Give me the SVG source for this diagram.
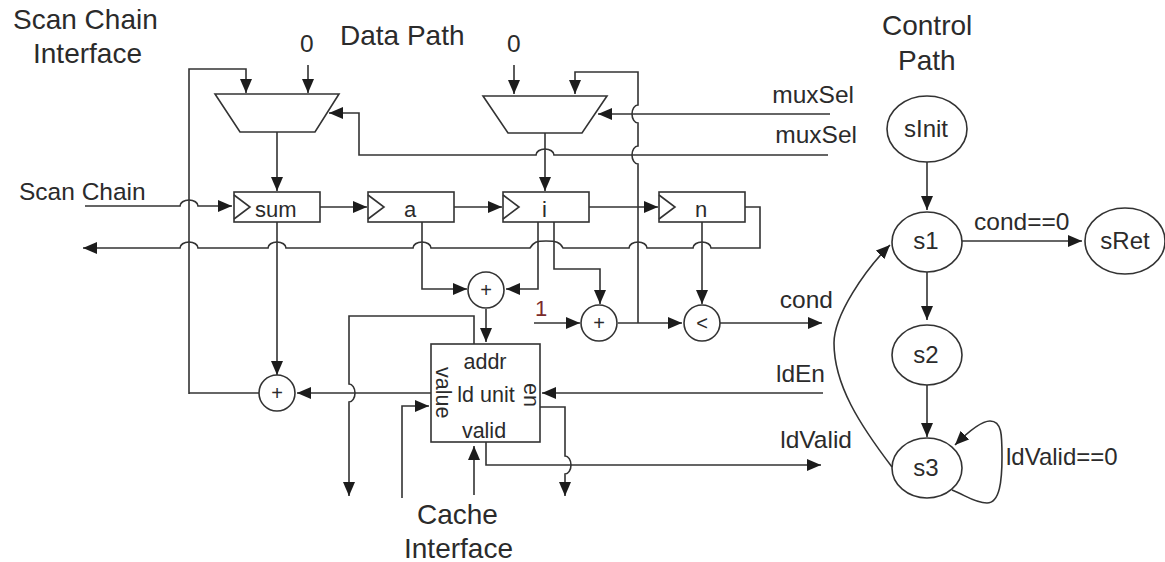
<svg xmlns="http://www.w3.org/2000/svg" width="1165" height="562" viewBox="0 0 1165 562">
<defs>
<marker id="a" markerUnits="userSpaceOnUse" markerWidth="16" markerHeight="14" refX="14" refY="6.5" orient="auto"><path d="M0 0.5L14 6.5L0 12.5Z" fill="#1c1c1c"/></marker>
</defs>
<style>
text{font-family:"Liberation Sans",Arial,sans-serif;fill:#2b2b2b;stroke:none}
.c path{fill:none;stroke:#333;stroke-width:1.6}
.n rect,.n circle,.n ellipse,.n path{fill:none;stroke:#333;stroke-width:1.6}
.m{marker-end:url(#a)}
.big{font-size:28px}.lab{font-size:24.5px}.st{font-size:24px}.reg{font-size:22px}.ld{font-size:21.5px}.op{font-size:20px}
</style>
<rect width="1165" height="562" fill="#fff"/>
<g id="connectors" class="c">
<path d="M189 394V69H246V93" class="m"/>
<path d="M308 65V93" class="m"/>
<path d="M277 132V191" class="m"/>
<path d="M828 155H554A9 6 0 0 0 536 155H359V113H329" class="m"/>
<path d="M85 206H180A9 6 0 0 1 198 206H232" class="m"/>
<path d="M320 207H367" class="m"/>
<path d="M454 207H502" class="m"/>
<path d="M589 207H658" class="m"/>
<path d="M745 207H760V248H711A9 6 0 0 0 693 248H647A9 6 0 0 0 629 248H563C560 242 556 241 546 241C536 241 534 242 530 248H431A9 6 0 0 0 413 248H286A9 6 0 0 0 268 248H198A9 6 0 0 0 180 248H83" class="m"/>
<path d="M514 65V94" class="m"/>
<path d="M638 323V164A6 9 0 0 1 638 146V123A6 9 0 0 1 638 105V72H575V94" class="m"/>
<path d="M830 114H598" class="m"/>
<path d="M545 133V191" class="m"/>
<path d="M422 222V289H467" class="m"/>
<path d="M538 222V289H506" class="m"/>
<path d="M554 222V269H600V304" class="m"/>
<path d="M702 222V304" class="m"/>
<path d="M277 222V375" class="m"/>
<path d="M534 323H580" class="m"/>
<path d="M618 323H682" class="m"/>
<path d="M720 323H822" class="m"/>
<path d="M486 309V342" class="m"/>
<path d="M474 344V316H349V384A6 9 0 0 1 349 402V496" class="m"/>
<path d="M431 393H297" class="m"/>
<path d="M259 393H189"/>
<path d="M823 393H542" class="m"/>
<path d="M402 498V406H429" class="m"/>
<path d="M474 495V446" class="m"/>
<path d="M486 442V465H821" class="m"/>
<path d="M540 407H565V456A6 9 0 0 1 565 474V496" class="m"/>
<path d="M927 162V210" class="m"/>
<path d="M927 272V320" class="m"/>
<path d="M927 385V437" class="m"/>
<path d="M962 241H1082" class="m"/>
<path d="M892 467C860 425 834 385 834 343C834 315 865 270 890 245" class="m"/>
<path d="M952 490C965 495 975 503 987 503C1000 503 1002 480 1002 457C1002 435 1002 421 990 421C980 421 965 435 955 445" class="m"/>
</g>
<g id="mux-left" class="n"><path d="M215 94H339L315 132H240Z"/></g>
<g id="mux-right" class="n"><path d="M483 96H607L582 133H508Z"/></g>
<g id="reg-sum" class="n"><rect x="234" y="192" width="86" height="30"/><path d="M234 195L250 207L234 219"/><text x="255" y="217" class="reg">sum</text></g>
<g id="reg-a" class="n"><rect x="368" y="192" width="86" height="30"/><path d="M368 195L384 207L368 219"/><text x="404" y="217" class="reg">a</text></g>
<g id="reg-i" class="n"><rect x="503" y="192" width="86" height="30"/><path d="M503 195L519 207L503 219"/><text x="542" y="217" class="reg">i</text></g>
<g id="reg-n" class="n"><rect x="659" y="192" width="86" height="30"/><path d="M659 195L675 207L659 219"/><text x="695" y="217" class="reg">n</text></g>
<g id="add-1" class="n"><circle cx="486" cy="290" r="18"/><text x="486" y="297" text-anchor="middle" class="op">+</text></g>
<g id="add-2" class="n"><circle cx="599" cy="323" r="18"/><text x="599" y="330" text-anchor="middle" class="op">+</text></g>
<g id="lt" class="n"><circle cx="702" cy="323" r="18"/><text x="702" y="330" text-anchor="middle" class="op">&lt;</text></g>
<g id="add-3" class="n"><circle cx="277" cy="393" r="18"/><text x="277" y="400" text-anchor="middle" class="op">+</text></g>
<g id="ld-unit" class="n"><rect x="431" y="344" width="109" height="98"/>
<text x="485" y="369" text-anchor="middle" class="ld">addr</text>
<text x="486" y="402" text-anchor="middle" class="ld">ld unit</text>
<text x="484" y="438" text-anchor="middle" class="ld">valid</text>
<text transform="translate(436,367) rotate(90)" class="ld">value</text>
<text transform="translate(524,383) rotate(90)" class="ld">en</text>
</g>
<g id="s-init" class="n"><ellipse cx="927" cy="129" rx="40" ry="33"/><text x="926" y="137" text-anchor="middle" class="st">sInit</text></g>
<g id="s1" class="n"><ellipse cx="927" cy="242" rx="35" ry="30"/><text x="926" y="249" text-anchor="middle" class="st">s1</text></g>
<g id="s2" class="n"><ellipse cx="927" cy="355" rx="35" ry="30"/><text x="926" y="363" text-anchor="middle" class="st">s2</text></g>
<g id="s3" class="n"><ellipse cx="927" cy="468" rx="35" ry="30"/><text x="926" y="476" text-anchor="middle" class="st">s3</text></g>
<g id="s-ret" class="n"><ellipse cx="1125" cy="241" rx="40" ry="33"/><text x="1125" y="249" text-anchor="middle" class="st">sRet</text></g>
<g id="labels">
<text x="13" y="29" class="big">Scan Chain</text>
<text x="33" y="63" class="big">Interface</text>
<text x="340" y="45" class="big">Data Path</text>
<text x="300" y="52" class="lab">0</text>
<text x="507" y="52" class="lab">0</text>
<text x="19" y="200" class="lab">Scan Chain</text>
<text x="854" y="103" text-anchor="end" class="lab">muxSel</text>
<text x="857" y="143" text-anchor="end" class="lab">muxSel</text>
<text x="833" y="308" text-anchor="end" class="lab">cond</text>
<text x="825" y="382" text-anchor="end" class="lab">ldEn</text>
<text x="852" y="448" text-anchor="end" class="lab">ldValid</text>
<text x="535" y="316" class="reg" style="fill:#7a2a2a">1</text>
<text x="974" y="230" class="lab">cond==0</text>
<text x="1006" y="465" class="st">ldValid==0</text>
<text x="417" y="524" class="big">Cache</text>
<text x="404" y="558" class="big">Interface</text>
<text x="882" y="35" class="big">Control</text>
<text x="898" y="70" class="big">Path</text>
</g>
</svg>
